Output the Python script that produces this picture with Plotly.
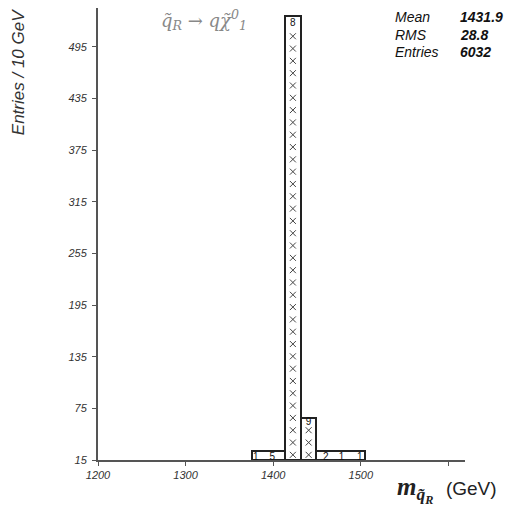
import plotly.graph_objects as go

# ---- data ----
bin_lo = [1376, 1413, 1432, 1449]
bin_hi = [1413, 1432, 1449, 1505]
bin_top = [26, 531, 64, 26]
cross_counts = [0, 35, 3, 0]

label_x = [1380, 1399, 1422.5, 1440.5, 1460, 1478, 1499]
label_y = [18, 18, 522, 58, 18, 18, 18]
label_txt = ["1", "5", "8", "9", "2", "1", "1"]

y_ticks = [15, 75, 135, 195, 255, 315, 375, 435, 495]
x_ticks = [1200, 1300, 1400, 1500, 1600]
x_ticktext = ["1200", "1300", "1400", "1500", ""]

stat_names = ["Mean", "RMS", "Entries"]
stat_vals = ["1431.9", "28.8", "6032"]

BASE = 15
X_RANGE = [1200, 1619]
Y_RANGE = [15, 540]

fig = go.Figure()

# bars
for lo, hi, top in zip(bin_lo, bin_hi, bin_top):
    fig.add_trace(go.Bar(
        x=[(lo + hi) / 2], y=[top - BASE], base=BASE, width=[hi - lo],
        marker=dict(color="white", line=dict(color="#222", width=2)),
        showlegend=False, hoverinfo="skip"))

# crosses
cx, cy = [], []
step = 14.3
for lo, hi, n in zip(bin_lo, bin_hi, cross_counts):
    for i in range(n):
        cx.append((lo + hi) / 2)
        cy.append(21 + i * step)
fig.add_trace(go.Scatter(x=cx, y=cy, mode="markers",
                         marker=dict(symbol="x-thin", size=6, line=dict(color="#444", width=1)),
                         showlegend=False, hoverinfo="skip"))

# count labels
fig.add_trace(go.Scatter(x=label_x, y=label_y, mode="text", text=label_txt,
                         textposition="middle center",
                         textfont=dict(family="Arial", size=10, color="#111"),
                         showlegend=False, hoverinfo="skip"))

fig.update_layout(
    width=512, height=512,
    margin=dict(l=90, r=55, t=0, b=60),
    paper_bgcolor="white", plot_bgcolor="white",
    barmode="overlay", bargap=0,
    xaxis=dict(range=X_RANGE, tickvals=x_ticks, ticktext=x_ticktext,
               showgrid=False, zeroline=False, showline=True, linecolor="#555", linewidth=2,
               ticks="outside", ticklen=4, tickcolor="#555",
               tickfont=dict(family="Arial", size=11, color="#333", style="italic")),
    yaxis=dict(range=Y_RANGE, tickvals=y_ticks,
               showgrid=False, zeroline=False, showline=True, linecolor="#555", linewidth=2,
               ticks="outside", ticklen=4, tickcolor="#555", ticklabelstandoff=3,
               tickfont=dict(family="Arial", size=11, color="#333", style="italic")),
)

ann = []
ann.append(dict(text="Entries / 10 GeV", xref="paper", yref="paper", x=-0.218, y=0.858,
                xanchor="center", yanchor="middle",
                textangle=-90, showarrow=False,
                font=dict(family="Arial", size=17, color="#333", style="italic")))
ann.append(dict(text="q̃<sub>R</sub> → qχ̃<sup>0</sup><sub>1</sub>", xref="paper", yref="paper",
                x=0.29, y=0.973, xanchor="center", yanchor="middle", showarrow=False,
                font=dict(family="DejaVu Serif", size=18, color="#888", style="italic")))
ann.append(dict(text="<b><i>m</i><sub><i>q̃<sub>R</sub></i></sub></b>  "
                     "<span style=\"font-family:Arial;font-size:19px\">(GeV)</span>",
                xref="paper", yref="paper",
                x=0.951, y=-0.066, xanchor="center", yanchor="middle", showarrow=False,
                font=dict(family="Liberation Serif", size=25, color="#222")))
stat_y = [0.980, 0.940, 0.903]
for n, v, yy in zip(stat_names, stat_vals, stat_y):
    ann.append(dict(text=n, xref="paper", yref="paper", x=0.805, y=yy,
                    xanchor="left", yanchor="middle",
                    showarrow=False, font=dict(family="Arial", size=14, color="#111", style="italic")))
    ann.append(dict(text="<b>" + v + "</b>", xref="paper", yref="paper", x=0.981, y=yy,
                    xanchor="left", yanchor="middle", showarrow=False,
                    font=dict(family="Arial", size=14, color="#111", style="italic")))
fig.update_layout(annotations=ann)

fig.write_html("out.html")
